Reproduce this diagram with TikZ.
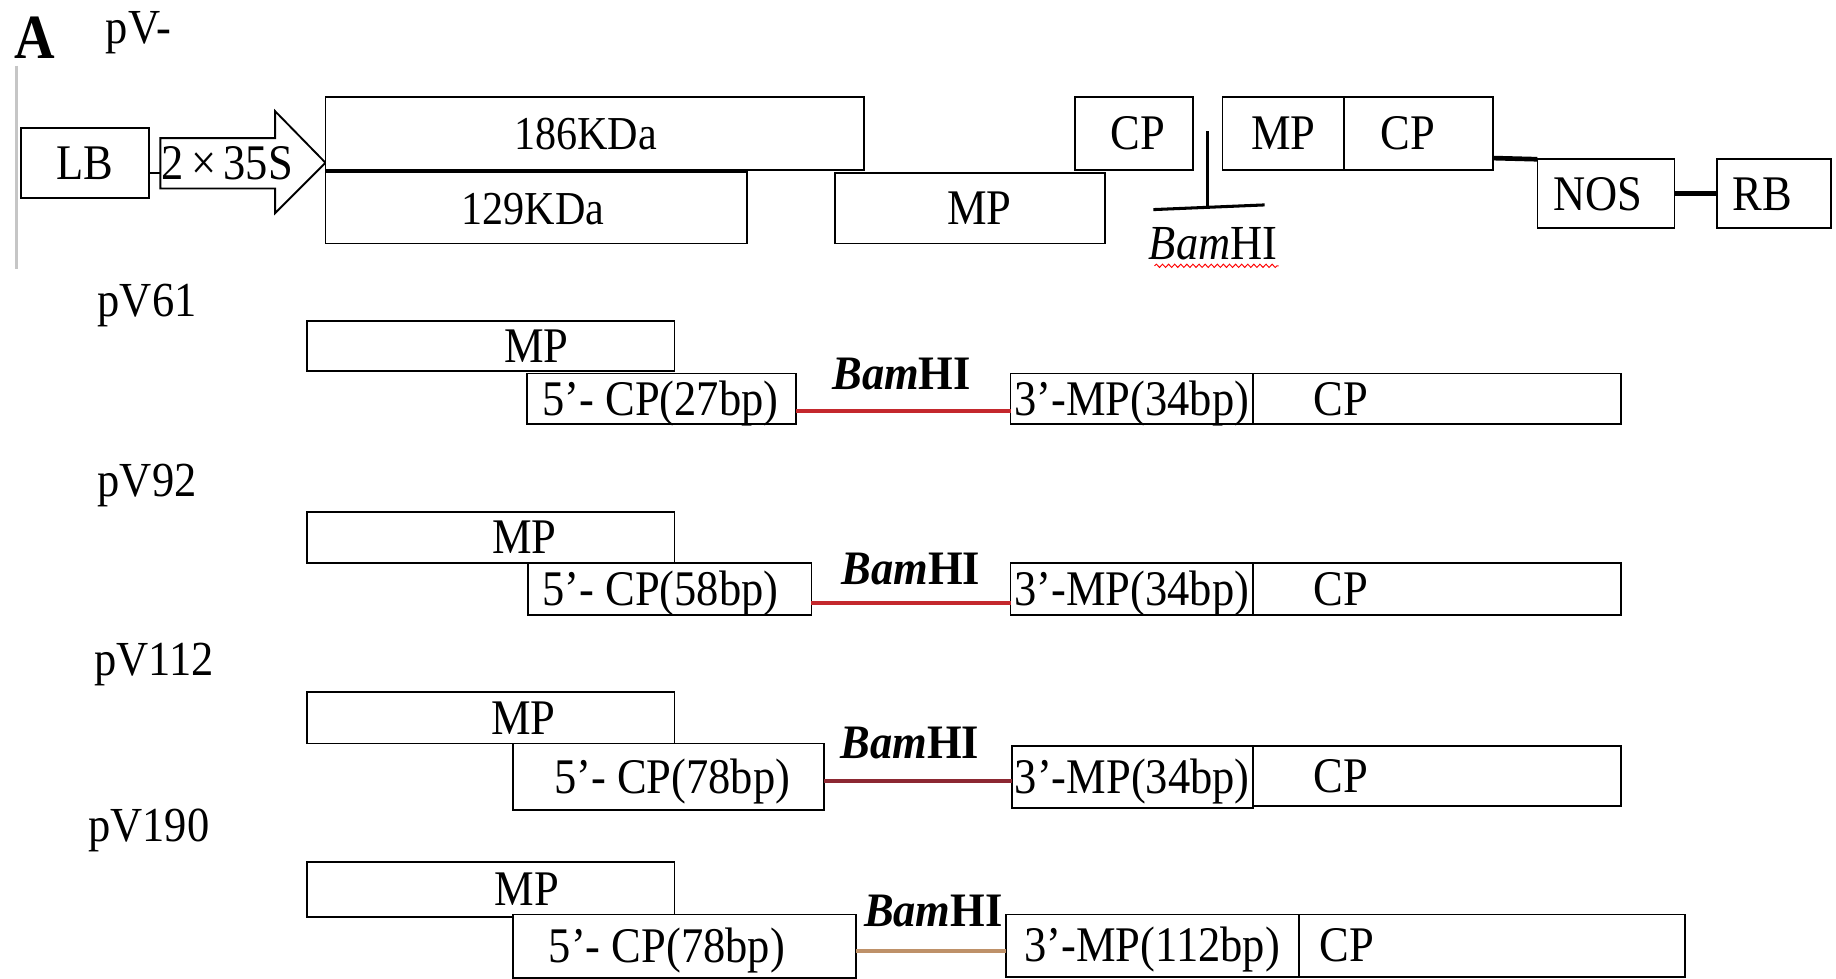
\documentclass[tikz,border=0pt]{standalone}
\usepackage{fontspec}
\usepackage{graphicx}
\setmainfont{Liberation Serif}
\usetikzlibrary{decorations.pathmorphing}

\definecolor{cutred}{RGB}{196,40,45}
\definecolor{cutdark}{RGB}{140,40,50}
\definecolor{cuttan}{RGB}{190,145,105}

% box: [style] name x1 y1 x2 y2 text-shift text
\newcommand\gbox[8][]{%
  \node[gbox,#1,minimum width={(#5-#3)*0.5pt},minimum height={(#6-#4)*0.5pt},
        label={[lbl,xshift={(#7)*0.5pt}]center:\scalebox{1}[1.12]{#8}}]
        (#2) at ({(#3+#5)/2},{(#4+#6)/2}) {};}

\begin{document}
\begin{tikzpicture}[x=0.5pt,y=-0.5pt,
  every node/.style={font=\fontsize{19}{22}\selectfont},
  gbox/.style={draw,line width=0.8pt,rectangle,inner sep=0pt,outer sep=0pt,fill=white},
  lbl/.style={inner sep=0pt,text height=14pt,text depth=0pt},
  tag/.style={inner sep=0pt,anchor=base west},
  site/.style={inner sep=0pt,anchor=base,font=\fontsize{19}{22}\selectfont\bfseries},
  link/.style={line width=1.7pt},
  bar/.style={line width=2pt}]

\useasboundingbox (0,0) rectangle (1568,836);

% panel letter and construct name
\node[tag,font=\fontsize{24}{26}\selectfont\bfseries] (panel) at (12,50) {\scalebox{1}[1.12]{A}};
\node[tag] (pvname) at (90,37) {\scalebox{1}[1.1]{pV-}};
\draw[gray!45,line width=1pt] (14,56) -- (14,230);

% ---- parental vector ----
\gbox{lb}{18}{109}{127}{169}{0}{LB}
\draw[line width=0.8pt] (lb.east |- 0,148) coordinate (lbo) -- (137,148) coordinate (pri);
\draw[line width=0.8pt,fill=white] (137,118) -- (235,118) -- (235,95) -- (278,139)
  -- (235,182) -- (235,161) -- (137,161) -- cycle;
\node[lbl] (prom) at (194,139.5) {\scalebox{1}[1.12]{2\,×\,35S}};

\gbox{p186}{278}{83}{738}{145}{-8}{\fontsize{18}{20}\selectfont 186KDa}
\gbox{p129}{278}{147}{638}{208}{-3}{\fontsize{18}{20}\selectfont 129KDa}
\gbox{mpt}{713}{148}{944}{208}{8}{MP}
\gbox{cpt}{918}{83}{1019}{145}{3}{CP}
\gbox{mps}{1044}{83}{1148}{145}{0}{MP}
\gbox{cps}{1148}{83}{1275}{145}{-9}{CP}
\gbox{nos}{1313}{136}{1430}{195}{-7}{NOS}
\gbox{rb}{1466}{136}{1564}{195}{-10}{RB}

% BamHI site in the parental vector
\coordinate (bt) at (1031,112);
\coordinate (bb) at (1031,177);
\draw[line width=1.3pt] (bt) -- (bb);
\draw[line width=1.3pt] (985,179) -- (1080,175);
\node[inner sep=0pt,anchor=base] (bsite) at (1036,222) {\scalebox{1}[1.1]{\textit{Bam}HI}};
\draw[red,line width=0.4pt,decorate,decoration={snake,amplitude=0.7pt,segment length=2.6pt}]
  (986,227) -- (1092,227);

\draw[bar] (cps.east |- 0,135) -- (nos.north west);
\draw[bar] (nos.east) -- (rb.west);

% ---- pV61 ----
\node[tag] (n61) at (83,270) {\scalebox{1}[1.1]{pV61}};
\gbox{mpa}{262}{274}{576}{317}{39}{MP}
\gbox{cfa}{450}{319}{680}{362}{-1}{5’- CP(27bp)}
\gbox{mta}{863}{319}{1070}{362}{0}{3’-MP(34bp)}
\gbox{cpa}{1070}{319}{1384}{362}{-82}{CP}
\draw[link,cutred] ([yshift=-5.25pt]cfa.east) -- ([yshift=-5.25pt]mta.west);
\node[site] (sa) at (770,333) {\scalebox{1}[1.08]{\textit{Bam}HI}};

% ---- pV92 ----
\node[tag] (n92) at (83,424) {\scalebox{1}[1.1]{pV92}};
\gbox{mpb}{262}{437}{576}{481}{29}{MP}
\gbox{cfb}{451}{481}{693}{525}{-8}{5’- CP(58bp)}
\gbox{mtb}{863}{481}{1070}{525}{0}{3’-MP(34bp)}
\gbox{cpb}{1070}{481}{1384}{525}{-82}{CP}
\draw[link,cutred] ([yshift=-6pt]cfb.east) -- ([yshift=-6pt]mtb.west);
\node[site] (sb) at (778,499) {\scalebox{1}[1.08]{\textit{Bam}HI}};

% ---- pV112 ----
\node[tag] (n112) at (80,577) {\scalebox{1}[1.1]{pV112}};
\gbox{mpc}{262}{591}{576}{635}{28}{MP}
\gbox{cfc}{438}{635}{704}{692}{3}{5’- CP(78bp)}
\gbox{mtc}{864}{637}{1070}{690}{0}{3’-MP(34bp)}
\gbox{cpc}{1070}{637}{1384}{688}{-82}{CP}
\draw[link,cutdark] ([yshift=-1.75pt]cfc.east) -- ([yshift=-1.75pt]cfc.east -| mtc.west);
\node[site] (sc) at (777,648) {\scalebox{1}[1.08]{\textit{Bam}HI}};

% ---- pV190 ----
\node[tag] (n190) at (75,719) {\scalebox{1}[1.1]{pV190}};
\gbox{mpd}{262}{736}{576}{783}{31}{MP}
\gbox{cfd}{438}{781}{731}{835}{-15}{5’- CP(78bp)}
\gbox{mtd}{859}{781}{1109}{834}{0}{3’-MP(112bp)}
\gbox{cpd}{1109}{781}{1439}{834}{-124}{CP}
\draw[link,cuttan] ([yshift=-2pt]cfd.east) -- ([yshift=-2pt]cfd.east -| mtd.west);
\node[site] (sd) at (797,791) {\scalebox{1}[1.08]{\textit{Bam}HI}};

\end{tikzpicture}
\end{document}
